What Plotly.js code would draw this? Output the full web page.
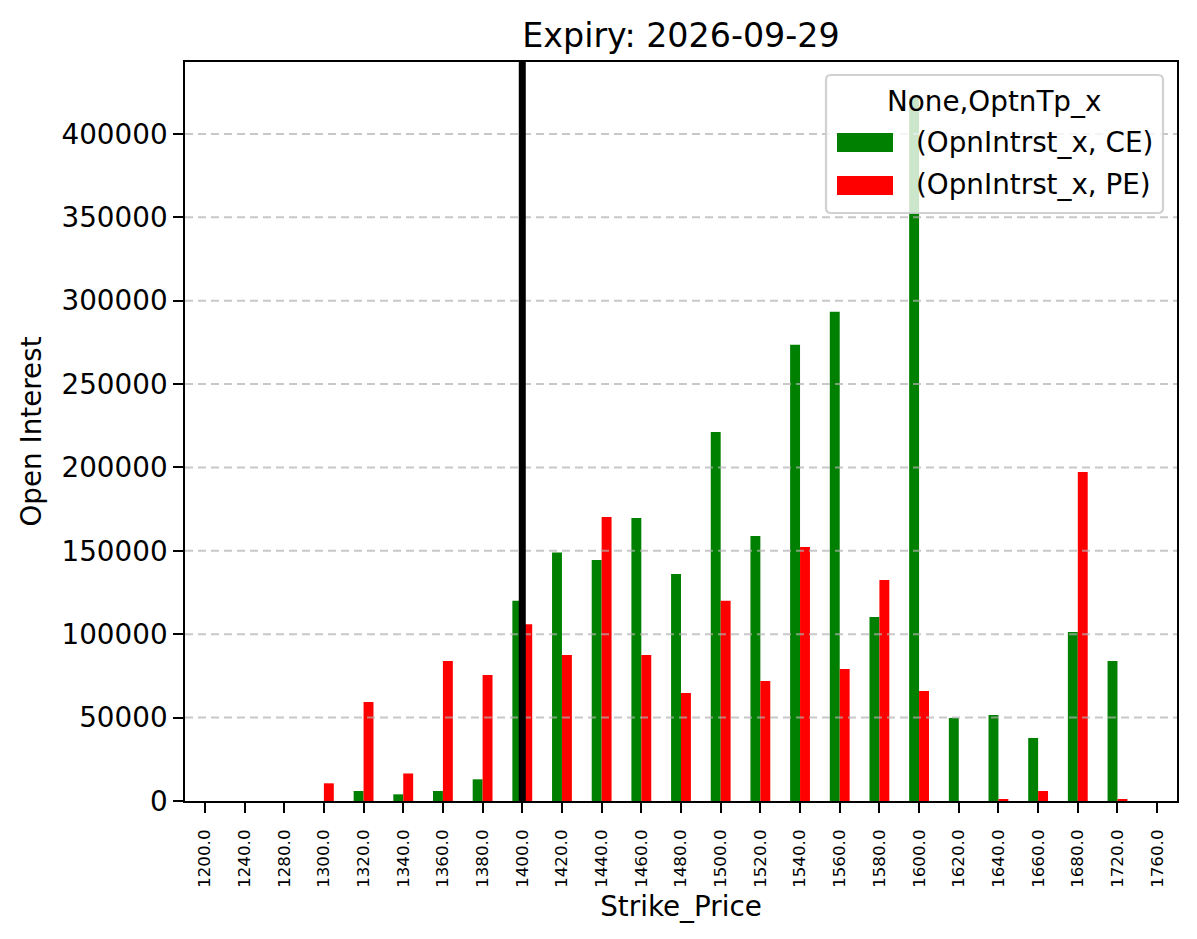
<!DOCTYPE html>
<html>
<head>
<meta charset="utf-8">
<script src="https://cdn.plot.ly/plotly-3.0.1.min.js"></script>
<style>html,body{margin:0;padding:0;background:#fff;}</style>
</head>
<body>
<div id="chart" style="width:1197px;height:939px;"></div>
<script>
// ---- data ----
const strikes = ['1200.0','1240.0','1280.0','1300.0','1320.0','1340.0','1360.0','1380.0','1400.0','1420.0','1440.0','1460.0','1480.0','1500.0','1520.0','1540.0','1560.0','1580.0','1600.0','1620.0','1640.0','1660.0','1680.0','1720.0','1760.0'];
const ceOI = [0,0,0,0,6000,4000,6000,13000,120000,149000,144500,169700,136100,221300,158900,273500,293300,110300,422000,49800,51600,37800,101300,84000,0];
const peOI = [0,0,0,10600,59400,16500,84000,75600,106000,87500,170300,87500,64800,120000,72000,152300,79200,132500,66000,0,1000,6000,197300,1000,0];
const spotStrike = '1400.0';
const yTickVals = [0,50000,100000,150000,200000,250000,300000,350000,400000];
const seriesNames = ['(OpnIntrst_x, CE)','(OpnIntrst_x, PE)'];
const seriesColors = ['#008000','#ff0000'];
const chartTitle = 'Expiry: 2026-09-29';
const legendTitle = 'None,OptnTp_x';

const FONT = 'DejaVu Sans';
const traces = [
  {type:'bar', x:strikes, y:ceOI, name:seriesNames[0], marker:{color:seriesColors[0], line:{width:0}}},
  {type:'bar', x:strikes, y:peOI, name:seriesNames[1], marker:{color:seriesColors[1], line:{width:0}}}
];

const yMax = Math.max(...ceOI, ...peOI) * 1.05;

// plot-area geometry (pixels) used to place the legend box in paper units
const PL = 185, PR = 1177, PT = 62, PB = 801;
const px = v => (v - PL) / (PR - PL);
const py = v => (PB - v) / (PB - PT);

const shapes = [];
yTickVals.filter(v => v > 0).forEach(v => {
  shapes.push({type:'line', xref:'paper', x0:0, x1:1, yref:'y', y0:v, y1:v,
    line:{color:'rgba(176,176,176,0.7)', width:2, dash:'8px,5px'}, layer:'above'});
});
shapes.push({type:'line', xref:'x', x0:strikes.indexOf(spotStrike), x1:strikes.indexOf(spotStrike), yref:'paper', y0:0, y1:1,
  line:{color:'#000000', width:7}, layer:'above'});

// legend box (matplotlib-style, rounded, semi-transparent)
(function(){
  const x0 = px(826), x1 = px(1163), y0 = py(213), y1 = py(75);
  const rx = 5/(PR-PL), ry = 5/(PB-PT);
  const path = `M ${x0+rx},${y0} L ${x1-rx},${y0} Q ${x1},${y0} ${x1},${y0+ry} L ${x1},${y1-ry} Q ${x1},${y1} ${x1-rx},${y1} L ${x0+rx},${y1} Q ${x0},${y1} ${x0},${y1-ry} L ${x0},${y0+ry} Q ${x0},${y0} ${x0+rx},${y0} Z`;
  shapes.push({type:'path', xref:'paper', yref:'paper', path:path,
    fillcolor:'rgba(255,255,255,0.8)', line:{color:'rgba(204,204,204,0.9)', width:2.2}, layer:'above'});
  shapes.push({type:'rect', xref:'paper', yref:'paper', x0:px(837), x1:px(893), y0:py(152), y1:py(133),
    fillcolor:seriesColors[0], line:{width:0}, layer:'above'});
  shapes.push({type:'rect', xref:'paper', yref:'paper', x0:px(837), x1:px(893), y0:py(195), y1:py(176),
    fillcolor:seriesColors[1], line:{width:0}, layer:'above'});
})();

const annotations = [
  {xref:'paper', yref:'paper', x:px(994), y:py(101), text:legendTitle, showarrow:false, xanchor:'center', yanchor:'middle',
   font:{family:FONT, size:27.8, color:'#000'}},
  {xref:'paper', yref:'paper', x:px(914), y:py(142), text:seriesNames[0], showarrow:false, xanchor:'left', yanchor:'middle',
   font:{family:FONT, size:27.8, color:'#000'}},
  {xref:'paper', yref:'paper', x:px(914), y:py(185), text:seriesNames[1], showarrow:false, xanchor:'left', yanchor:'middle',
   font:{family:FONT, size:27.8, color:'#000'}}
];

const layout = {
  width:1197, height:939,
  margin:{l:185, r:20, t:62, b:138, pad:0},
  paper_bgcolor:'#ffffff', plot_bgcolor:'#ffffff',
  font:{family:FONT, color:'#000000', size:27.8},
  title:{text:chartTitle, font:{family:FONT, size:33.3, color:'#000'}, xref:'paper', x:0.5, xanchor:'center', yref:'container', y:1-35/939, yanchor:'middle'},
  barmode:'group', bargap:0.5, bargroupgap:0,
  showlegend:false,
  xaxis:{
    type:'category', categoryorder:'array', categoryarray:strikes,
    range:[-0.5, strikes.length-0.5],
    showline:true, mirror:true, linecolor:'#000', linewidth:2.2,
    ticks:'outside', ticklen:9.7, tickwidth:2.2, tickcolor:'#000',
    tickangle:-90, tickfont:{family:FONT, size:16.7, color:'#000'}, ticklabelstandoff:10,
    showgrid:false, zeroline:false, automargin:false,
    title:{text:'Strike_Price', font:{family:FONT, size:27.8, color:'#000'}, standoff:10}
  },
  yaxis:{
    range:[0, yMax], tickvals:yTickVals, ticktext:yTickVals.map(String),
    showline:true, mirror:true, linecolor:'#000', linewidth:2.2,
    ticks:'outside', ticklen:9.7, tickwidth:2.2, tickcolor:'#000',
    tickfont:{family:FONT, size:27.8, color:'#000'},
    showgrid:false, zeroline:false, automargin:false,
    title:{text:'Open Interest', font:{family:FONT, size:27.8, color:'#000'}, standoff:12}
  },
  shapes:shapes,
  annotations:annotations
};

Plotly.newPlot('chart', traces, layout, {displayModeBar:false, responsive:false});
</script>
</body>
</html>
